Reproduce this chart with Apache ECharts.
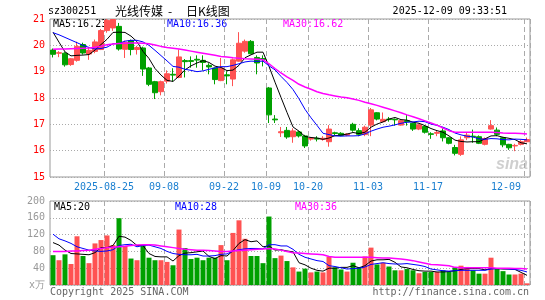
<!DOCTYPE html>
<html><head><meta charset="utf-8">
<script src="https://cdn.jsdelivr.net/npm/echarts@6/dist/echarts.min.js"></script>
<style>html,body{margin:0;padding:0;background:#fff;}#c{width:545px;height:300px;}</style>
</head><body><div id="c"></div>
<script>
const dates = ['2025-08-12','2025-08-13','2025-08-14','2025-08-15','2025-08-18','2025-08-19','2025-08-20','2025-08-21','2025-08-22','2025-08-25','2025-08-26','2025-08-27','2025-08-28','2025-08-29','2025-09-01','2025-09-02','2025-09-03','2025-09-04','2025-09-05','2025-09-08','2025-09-09','2025-09-10','2025-09-11','2025-09-12','2025-09-15','2025-09-16','2025-09-17','2025-09-18','2025-09-19','2025-09-22','2025-09-23','2025-09-24','2025-09-25','2025-09-26','2025-09-29','2025-09-30','2025-10-09','2025-10-10','2025-10-13','2025-10-14','2025-10-15','2025-10-16','2025-10-17','2025-10-20','2025-10-21','2025-10-22','2025-10-23','2025-10-24','2025-10-27','2025-10-28','2025-10-29','2025-10-30','2025-10-31','2025-11-03','2025-11-04','2025-11-05','2025-11-06','2025-11-07','2025-11-10','2025-11-11','2025-11-12','2025-11-13','2025-11-14','2025-11-17','2025-11-18','2025-11-19','2025-11-20','2025-11-21','2025-11-24','2025-11-25','2025-11-26','2025-11-27','2025-11-28','2025-12-01','2025-12-02','2025-12-03','2025-12-04','2025-12-05','2025-12-08','2025-12-09'];
const markDates = ['2025-08-25','2025-09-08','2025-09-22','2025-10-09','2025-10-20','2025-11-03','2025-11-17','2025-12-09'];
const opens = [19.82,19.70,19.70,19.27,19.43,20.03,19.67,19.77,19.84,20.56,
 20.66,20.72,19.85,20.18,19.84,19.90,19.14,18.62,18.24,18.64,
 18.90,18.78,19.42,19.42,19.47,19.43,19.24,19.14,18.66,18.88,
 18.72,19.40,19.78,20.15,19.54,19.50,18.38,17.20,16.68,16.77,
 16.53,16.71,16.56,16.44,16.47,16.43,16.34,16.68,16.66,16.59,
 17.00,16.76,16.61,16.97,17.44,17.10,17.20,17.19,16.97,17.14,
 17.04,16.82,16.92,16.64,16.66,16.75,16.49,16.12,15.86,16.49,
 16.55,16.53,16.24,16.82,16.78,16.49,16.24,16.18,16.24,16.34];
const closes = [19.66,19.72,19.26,19.49,19.96,19.71,19.81,20.13,20.56,20.95,
 20.98,19.86,20.12,19.84,19.92,19.10,18.52,18.20,18.62,18.92,
 18.87,19.56,19.38,19.39,19.44,19.35,19.18,18.70,19.14,18.84,
 19.45,20.08,20.15,19.68,19.33,19.47,17.36,17.17,16.72,16.52,
 16.75,16.56,16.18,16.48,16.44,16.47,16.82,16.65,16.58,16.63,
 16.78,16.62,16.89,17.55,17.20,17.19,17.18,17.17,17.14,17.10,
 16.82,16.98,16.70,16.62,16.69,16.49,16.28,15.90,16.41,16.59,
 16.53,16.28,16.46,16.95,16.62,16.22,16.11,16.20,16.34,16.42];
const lows = [19.54,19.55,19.19,19.22,19.38,19.65,19.45,19.70,19.82,20.48,
 20.55,19.80,19.52,19.62,19.65,18.84,18.45,17.96,18.10,18.55,
 18.62,18.75,18.78,19.15,19.15,19.05,18.90,18.52,18.64,18.52,
 18.45,19.38,19.72,19.66,18.90,19.20,17.05,17.05,16.52,16.45,
 16.30,16.50,16.10,16.38,16.35,16.38,16.15,16.58,16.55,16.55,
 16.72,16.55,16.55,16.55,17.15,17.08,17.10,16.95,16.95,16.95,
 16.75,16.78,16.65,16.45,16.55,16.35,16.24,15.82,15.80,16.40,
 16.30,16.25,16.20,16.80,16.55,16.13,16.03,15.98,16.20,16.32];
const highs = [19.88,19.78,19.74,19.52,20.14,20.10,19.90,20.22,20.62,21.00,
 21.00,20.85,20.18,20.22,19.98,19.95,19.18,18.65,18.66,19.05,
 19.13,19.84,19.48,19.58,19.62,19.62,19.32,19.16,19.52,19.02,
 19.50,20.50,20.22,20.20,19.62,19.62,18.42,17.35,16.90,16.90,
 16.85,16.75,16.60,16.52,16.55,16.55,16.97,16.72,16.70,16.66,
 17.06,16.85,16.95,17.62,17.46,17.45,17.28,17.22,17.19,17.35,
 17.06,17.02,16.95,16.70,16.75,16.85,16.52,16.22,16.54,16.70,
 16.80,16.58,16.50,17.16,16.88,16.52,16.26,16.26,16.40,16.50];
const ma5 = [20.50,20.12,19.75,19.60,19.62,19.63,19.65,19.82,20.03,20.23,
 20.49,20.50,20.49,20.35,20.14,19.77,19.50,19.12,18.87,18.67,
 18.63,18.83,19.07,19.22,19.33,19.42,19.35,19.21,19.16,19.04,
 19.06,19.24,19.53,19.64,19.74,19.74,19.20,18.60,18.02,17.45,
 16.90,16.74,16.54,16.50,16.48,16.43,16.48,16.57,16.59,16.63,
 16.69,16.65,16.70,16.89,17.01,17.09,17.20,17.26,17.18,17.16,
 17.08,17.04,16.95,16.84,16.76,16.70,16.56,16.40,16.35,16.33,
 16.34,16.34,16.45,16.56,16.57,16.51,16.47,16.42,16.30,16.26];
const ma10 = [20.48,20.40,20.30,20.20,20.10,20.00,19.92,19.86,19.88,19.93,
 20.06,20.07,20.16,20.19,20.19,20.13,20.00,19.81,19.61,19.41,
 19.20,19.17,19.09,19.05,19.00,19.03,19.09,19.14,19.19,19.19,
 19.24,19.30,19.37,19.40,19.39,19.40,19.22,19.07,18.82,18.59,
 18.32,17.97,17.57,17.25,16.96,16.66,16.61,16.56,16.55,16.56,
 16.56,16.57,16.64,16.74,16.82,16.89,16.93,16.98,17.04,17.08,
 17.09,17.12,17.10,17.01,16.96,16.89,16.80,16.67,16.60,16.55,
 16.52,16.45,16.43,16.46,16.45,16.42,16.41,16.44,16.43,16.41];
const ma30 = [19.85,19.86,19.86,19.87,19.88,19.89,19.90,19.93,19.97,20.02,
 20.05,20.07,20.08,20.09,20.09,20.08,20.06,20.01,19.96,19.92,
 19.89,19.86,19.82,19.78,19.74,19.70,19.66,19.62,19.58,19.56,
 19.53,19.51,19.49,19.48,19.47,19.45,19.30,19.12,18.95,18.80,
 18.67,18.52,18.42,18.33,18.24,18.17,18.12,18.08,18.04,18.01,
 17.96,17.91,17.84,17.78,17.72,17.65,17.58,17.51,17.44,17.36,
 17.29,17.21,17.13,17.05,16.97,16.86,16.76,16.70,16.70,16.70,
 16.70,16.70,16.70,16.70,16.69,16.67,16.66,16.66,16.65,16.63];
const volumes = [71,59,73,50,116,69,52,99,107,118,
 95,159,93,63,59,95,65,59,59,55,
 47,132,88,62,65,59,65,65,95,59,
 124,154,110,69,69,52,163,64,70,57,
 42,32,39,30,32,30,67,42,37,32,
 53,42,68,89,49,53,44,35,35,38,
 35,28,31,31,31,35,31,42,46,43,
 35,27,27,65,39,33,25,25,27,4];
const volMa5 = [101,95,83,75,74,73,72,77,89,89,
 94,116,114,106,94,94,75,68,67,67,
 57,70,76,77,79,81,68,63,70,69,
 82,99,108,103,105,91,93,83,84,81,
 79,53,48,40,35,33,40,40,42,42,
 46,41,46,57,60,60,61,54,43,41,
 37,34,33,33,31,31,32,34,37,39,
 39,39,36,39,39,38,38,37,30,23];
const volMa10 = [121,110,105,99,91,87,83,81,80,81,
 84,94,96,97,91,94,95,91,87,80,
 75,73,72,72,73,69,69,70,73,74,
 81,84,86,87,87,86,96,96,93,93,
 85,73,66,62,58,56,46,44,41,38,
 39,40,43,49,51,53,51,50,50,51,
 49,47,44,38,36,34,33,34,35,35,
 35,35,35,38,39,39,38,37,35,31];
const volMa30 = [80,80,80,81,81,82,83,85,87,89,
 90,91,92,94,95,96,96,95,93,91,
 89,87,85,84,83,83,82,81,80,80,
 81,82,83,84,85,86,87,86,83,80,
 77,76,75,74,73,72,68,66,66,66,
 66,66,66,66,65,64,64,63,62,60,
 58,55,52,49,48,47,46,42,41,41,
 41,41,41,41,40,40,40,39,39,38];
const maLabels = {ma5:'16.23', ma10:'16.36', ma30:'16.62', vma5:'20', vma10:'28', vma30:'36'};

const UP = '#ff5252', DOWN = '#00a000';
const MONO = '"DejaVu Sans Mono", monospace';
const markSet = new Set(markDates.map(d => dates.indexOf(d)));
const vline = {show:true, interval:(i)=>markSet.has(i), lineStyle:{color:'#aaa', width:1, type:[5,3]}};

const chart = echarts.init(document.getElementById('c'), null, {renderer:'canvas'});
function txt(text, x, y, fill, font, align){
  return {type:'text', z:0, silent:true, style:{text, x, y, fill, font, align:align||'left', verticalAlign:'middle', textAlign:align||'left', textVerticalAlign:'middle'}};
}
const option = {
  animation:false,
  backgroundColor:'#fff',
  grid:[
    {left:50, top:19, width:480, height:158, show:true, borderColor:'#999', borderWidth:1, backgroundColor:'transparent'},
    {left:50, top:201, width:480, height:84, show:true, borderColor:'#999', borderWidth:1, backgroundColor:'transparent'}
  ],
  xAxis:[
    {type:'category', gridIndex:0, data:dates, boundaryGap:true,
     axisLine:{show:false}, axisTick:{show:false},
     axisLabel:{interval:(i)=>markSet.has(i), color:'#1a7fd0', fontSize:10, fontFamily:MONO, margin:5,
       padding:[0,6,0,0], alignMaxLabel:'right',
       formatter:(v)=> v===markDates[0] ? v : v.slice(5)},
     splitLine:vline},
    {type:'category', gridIndex:1, data:dates, boundaryGap:true,
     axisLine:{show:false}, axisTick:{show:false}, axisLabel:{show:false},
     splitLine:vline}
  ],
  yAxis:[
    {type:'value', gridIndex:0, min:15, max:21, interval:1,
     axisLine:{show:false}, axisTick:{show:false},
     axisLabel:{color:'#ff0000', fontSize:10, fontFamily:MONO, margin:5},
     splitLine:{lineStyle:{color:'#aaa', width:1, type:[1,2]}}},
    {type:'value', gridIndex:1, min:0, max:200, interval:40,
     axisLine:{show:false}, axisTick:{show:false},
     axisLabel:{color:'#999', fontSize:10, fontFamily:MONO, margin:5,
       formatter:(v)=> v===0 ? 'x万' : String(v)},
     splitLine:{lineStyle:{color:'#aaa', width:1, type:[1,2]}}}
  ],
  graphic:[
    txt('sz300251', 48, 11, '#000', '10px '+MONO),
    txt('光线传媒', 115, 11, '#000', '12px "Noto Sans CJK SC"'),
    txt('-', 168, 11, '#000', '12px "Noto Sans CJK SC"'),
    txt('日K线图', 186, 11, '#000', '12px "Noto Sans CJK SC"'),
    txt('2025-12-09 09:33:51', 507, 11, '#000', '10px '+MONO, 'right'),
    txt('MA5:'+maLabels.ma5, 53, 24, '#000', '10px '+MONO),
    txt('MA10:'+maLabels.ma10, 167, 24, '#0000ff', '10px '+MONO),
    txt('MA30:'+maLabels.ma30, 283, 24, '#ff00ff', '10px '+MONO),
    txt('MA5:'+maLabels.vma5, 54, 207, '#000', '10px '+MONO),
    txt('MA10:'+maLabels.vma10, 175, 207, '#0000ff', '10px '+MONO),
    txt('MA30:'+maLabels.vma30, 295, 207, '#ff00ff', '10px '+MONO),
    txt('Copyright 2025 SINA.COM', 50, 292, '#666', '10px '+MONO),
    txt('http://finance.sina.com.cn', 529, 292, '#666', '10px '+MONO, 'right'),
    txt('sina', 496, 165, '#cfcfcf', 'italic bold 16px "Liberation Sans"')
  ],
  series:[
    {type:'candlestick', xAxisIndex:0, yAxisIndex:0, barWidth:5,
     data: opens.map((o,i)=>[o, closes[i], lows[i], highs[i]]),
     itemStyle:{color:UP, color0:DOWN, borderColor:UP, borderColor0:DOWN, borderWidth:1}},
    {type:'line', xAxisIndex:0, yAxisIndex:0, data:ma5, symbol:'none', lineStyle:{color:'#000', width:1}, z:3},
    {type:'line', xAxisIndex:0, yAxisIndex:0, data:ma10, symbol:'none', lineStyle:{color:'#0000ff', width:1}, z:3},
    {type:'line', xAxisIndex:0, yAxisIndex:0, data:ma30, symbol:'none', lineStyle:{color:'#ff00ff', width:1.5}, z:3},
    {type:'bar', xAxisIndex:1, yAxisIndex:1, barWidth:5,
     data: volumes.map((v,i)=>({value:v, itemStyle:{color: closes[i] >= opens[i] ? UP : DOWN}}))},
    {type:'line', xAxisIndex:1, yAxisIndex:1, data:volMa5, symbol:'none', lineStyle:{color:'#000', width:1}, z:3},
    {type:'line', xAxisIndex:1, yAxisIndex:1, data:volMa10, symbol:'none', lineStyle:{color:'#0000ff', width:1}, z:3},
    {type:'line', xAxisIndex:1, yAxisIndex:1, data:volMa30, symbol:'none', lineStyle:{color:'#ff00ff', width:1.5}, z:3}
  ]
};
chart.setOption(option);
</script></body></html>
